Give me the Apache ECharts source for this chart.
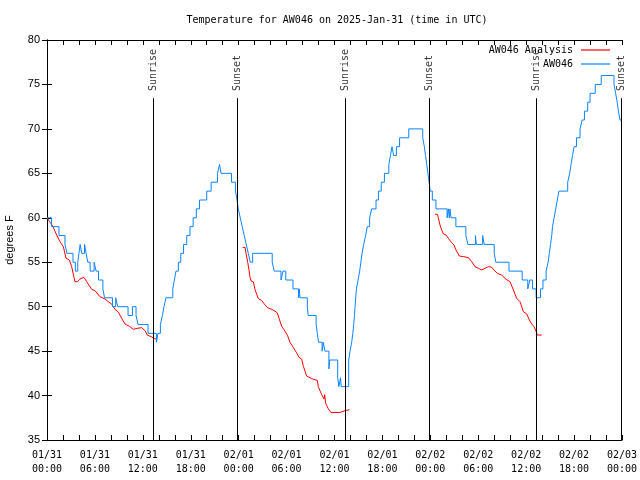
<!DOCTYPE html>
<html>
<head>
<meta charset="utf-8">
<script src="https://cdn.jsdelivr.net/npm/echarts@6/dist/echarts.min.js"></script>
<style>html,body{margin:0;padding:0;background:#fff}#c{width:640px;height:480px}</style>
</head>
<body>
<div id="c"></div>
<script>
// Hours since 2025-01-31 00:00 UTC
const tickLabels = ['01/31\n00:00','01/31\n06:00','01/31\n12:00','01/31\n18:00','02/01\n00:00','02/01\n06:00','02/01\n12:00','02/01\n18:00','02/02\n00:00','02/02\n06:00','02/02\n12:00','02/02\n18:00','02/03\n00:00'];

// AW046 observations (change points, value holds until next time)
const obsT = [0,0.55,1.5,2.25,2.5,3.25,3.55,3.85,4.0,4.15,4.35,4.7,4.9,5.1,5.4,5.9,6.15,6.45,7.0,7.2,8.2,8.6,8.85,10.15,10.7,11.15,11.4,12.65,13.7,13.9,14.2,14.45,14.65,14.9,15.75,15.95,16.15,16.45,16.75,17.1,17.5,17.9,18.3,18.7,19.1,20.0,20.55,21.35,21.6,21.8,23.1,23.6,23.8,23.95,24.2,24.45,24.7,24.95,25.2,25.45,25.75,28.2,28.45,29.3,29.55,29.9,30.8,31.5,31.58,31.68,32.6,32.7,33.7,33.85,34.0,34.45,34.6,34.8,35.3,35.4,36.4,36.55,36.75,36.85,37.78,37.95,38.15,38.3,38.4,38.5,38.58,38.65,38.75,38.95,39.15,39.3,39.45,39.65,39.9,40.1,40.4,40.65,41.2,41.5,41.85,42.25,42.8,43.0,43.2,43.4,43.75,44.15,45.3,47.05,47.25,47.4,47.55,47.7,47.85,47.98,48.25,48.7,50.1,50.25,50.38,50.46,50.59,51.2,52.45,52.7,53.65,53.75,54.55,54.75,56.0,56.2,57.85,59.5,60.2,60.45,60.8,61.25,61.8,62.1,62.5,62.75,62.9,63.05,63.2,63.3,63.5,63.7,63.9,64.1,65.2,65.45,65.62,65.8,66.0,66.3,66.75,67.0,67.3,67.7,68.0,68.65,69.4,71.0,71.2,71.4,71.55,71.75,72];
const obsV = [60,59,58,57,56,55,54,55,56,57,56,57,56,55,54,55,54,53,52,51,50,51,50,49,50,49,48,47,46,47,48,49,50,51,52,53,54,55,56,57,58,59,60,61,62,63,64,65,66,65,64,63,62,61,60,59,58,57,56,55,56,55,54,53,54,53,52,51,52,51,50,49,48,47,46,45,46,45,43,44,42,41,42,41,44,45,46,47,48,49,50,51,52,53,54,55,56,57,58,59,60,61,62,63,64,65,66,67,68,67,68,69,70,69,68,67,66,65,64,63,62,61,60,61,60,61,60,59,58,57,58,57,58,57,56,55,54,53,52,53,52,51,52,53,54,55,56,57,58,59,60,61,62,63,64,65,66,67,68,69,70,71,72,73,74,75,76,75,74,73,72,71,71];

// AW046 Analysis (null = gap)
const anaT = [0,0.3,0.71,1.21,1.63,2.05,2.38,2.8,3.09,3.5,3.8,4.13,4.63,4.97,5.6,6.0,6.64,7.26,7.68,8.1,8.51,8.93,9.35,9.77,10.31,10.81,11.3,11.85,12.27,12.56,13.1,13.5,13.73,
  18,
  24.5,24.8,24.92,25.13,25.3,25.4,25.55,25.84,26.05,26.46,26.88,27.3,27.59,28.13,28.55,28.84,29.09,29.38,29.68,30.1,30.43,30.85,31.26,31.55,31.89,32.1,32.51,33.14,33.85,33.97,34.39,34.69,34.77,34.9,35.23,35.56,36.69,37.31,37.86,
  42,
  48.59,48.88,49.0,49.21,49.42,49.63,49.96,50.25,50.67,50.96,51.21,51.63,52.13,52.76,53.18,53.59,54.01,54.43,54.85,55.26,55.68,55.97,56.39,56.93,57.48,57.98,58.4,58.81,59.23,59.65,60.07,60.4,60.69,60.98,61.23,61.4,61.94];
const anaV = [60.0,59.6,59.07,58.06,57.31,56.75,55.44,55.25,54.5,52.81,52.8,53.1,53.3,52.81,51.95,51.8,51.12,50.86,50.56,50.3,49.7,49.4,48.69,48.05,47.8,47.45,47.56,47.64,47.3,46.81,46.6,46.4,46.33,
  null,
  56.67,56.67,56.0,55.0,54.1,53.4,52.9,52.8,51.9,50.9,50.7,50.2,49.9,49.7,49.5,49.3,48.6,47.8,47.4,46.8,46.0,45.4,44.8,44.3,44.1,43.3,42.2,41.9,41.7,41.0,40.1,39.6,40.1,39.1,38.5,38.1,38.1,38.3,38.4,
  null,
  60.39,60.39,60.02,59.19,58.63,58.18,58.07,57.69,57.2,56.94,56.38,55.7,55.63,55.52,55.07,54.5,54.32,54.13,54.32,54.5,54.45,54.13,53.75,53.56,53.07,52.81,51.88,50.94,50.56,49.44,49.18,48.5,48.05,47.75,47.26,46.81,46.81];

const sunT = [13.3, 23.83, 37.35, 47.85, 61.27, 71.92];
const sunNames = ['Sunrise','Sunset','Sunrise','Sunset','Sunrise','Sunset'];

const mono = 'DejaVu Sans Mono';
const sans = 'Liberation Sans';
const lineTop = 73.45, labelBase = 74.25;

const chart = echarts.init(document.getElementById('c'), null, {renderer:'canvas'});
const xCommon = {
  type:'value', min:0, max:72, interval:6,
  axisLine:{show:true, lineStyle:{color:'#000', width:1}},
  axisTick:{show:true, inside:true, length:5, lineStyle:{color:'#000'}},
  minorTick:{show:true, splitNumber:3, length:5, lineStyle:{color:'#000'}},
  splitLine:{show:false}, minorSplitLine:{show:false}
};
const yCommon = {
  type:'value', min:35, max:80, interval:5,
  axisLine:{show:true, lineStyle:{color:'#000', width:1}},
  axisTick:{show:true, inside:true, length:5, lineStyle:{color:'#000'}},
  splitLine:{show:false}
};
chart.setOption({
  animation:false,
  backgroundColor:'#fff',
  title:{text:'Temperature for AW046 on 2025-Jan-31 (time in UTC)', left:332, top:10, textAlign:'center',
    textStyle:{fontFamily:mono, fontSize:10, fontWeight:'normal', color:'#000'}},
  legend:{data:['AW046 Analysis','AW046'], orient:'vertical', right:25, top:40, align:'right',
    itemWidth:29, itemHeight:9, itemGap:4, symbolKeepAspect:true,
    icon:'path://M0,0L29,0L29,1.2L0,1.2Z',
    textStyle:{fontFamily:mono, fontSize:10, color:'#000', padding:[0,3,0,0]}},
  grid:{left:47, right:18, top:40, bottom:40, containLabel:false, outerBoundsMode:'none'},
  xAxis:[
    Object.assign({}, xCommon, {position:'bottom',
      axisLabel:{show:true, margin:8, fontFamily:mono, fontSize:10, lineHeight:14, color:'#000',
        formatter:v => tickLabels[Math.round(v/6)]}}),
    Object.assign({}, xCommon, {position:'top', axisLabel:{show:false}})
  ],
  yAxis:[
    Object.assign({}, yCommon, {position:'left', name:'degrees F', nameLocation:'middle', nameRotate:90, nameGap:32,
      nameTextStyle:{fontFamily:sans, fontSize:11, color:'#000'},
      axisLabel:{show:true, margin:7, fontFamily:sans, fontSize:11, color:'#000'}}),
    Object.assign({}, yCommon, {position:'right', axisLabel:{show:false}})
  ],
  series:[
    {name:'AW046 Analysis', type:'line', xAxisIndex:0, yAxisIndex:0, symbol:'none', connectNulls:false,
      lineStyle:{color:'#ff0000', width:1}, itemStyle:{color:'#ff0000'},
      data: anaT.map((t,i)=>[t, anaV[i]===null ? '-' : anaV[i]])},
    {name:'AW046', type:'line', xAxisIndex:0, yAxisIndex:0, symbol:'none', step:'end',
      lineStyle:{color:'#0a84ff', width:1}, itemStyle:{color:'#0a84ff'},
      data: obsT.map((t,i)=>[t, obsV[i]])},
    {name:'sun', type:'scatter', xAxisIndex:0, yAxisIndex:0, symbolSize:1, itemStyle:{color:'rgba(0,0,0,0)'},
      silent:true,
      label:{show:true, position:'inside', rotate:90, align:'left', verticalAlign:'middle',
        fontFamily:mono, fontSize:10, color:'#000', formatter:p => sunNames[p.dataIndex]},
      data: sunT.map(t=>[t, labelBase]),
      markLine:{silent:true, symbol:['none','none'], label:{show:false},
        lineStyle:{color:'#000', width:1, type:'solid'},
        data: sunT.map(t=>[{coord:[t,35]},{coord:[t,lineTop]}])}}
  ]
});
</script>
</body>
</html>
